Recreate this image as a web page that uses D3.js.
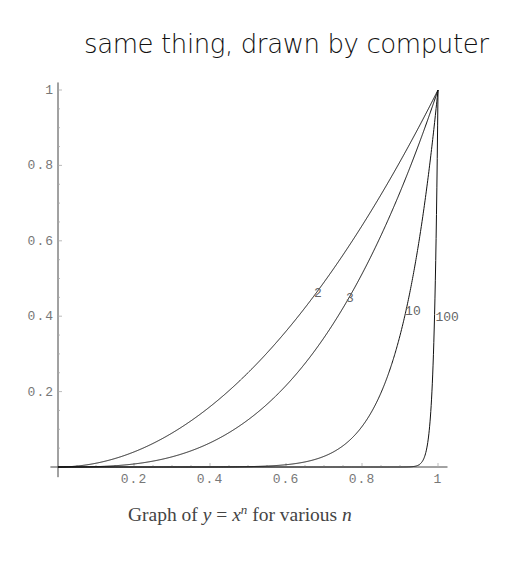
<!DOCTYPE html>
<html>
<head>
<meta charset="utf-8">
<script src="https://cdn.jsdelivr.net/npm/d3@7"></script>
<style>
  body { margin: 0; background: #fff; }
  svg { display: block; }
</style>
</head>
<body>
<script>
// exponents of y = x^n
var exponents = [2, 3, 10, 100];
var curveLabels = ["2", "3", "10", "100"];
// where the labels sit (data units)
var labelX = [0.684, 0.768, 0.934, 1.024];
var labelY = [0.464, 0.451, 0.416, 0.400];

var xTicks = [0.2, 0.4, 0.6, 0.8, 1];
var yTicks = [0.2, 0.4, 0.6, 0.8, 1];
var xTickText = ["0.2", "0.4", "0.6", "0.8", "1"];
var yTickText = ["0.2", "0.4", "0.6", "0.8", "1"];

var width = 512, height = 561;

var svg = d3.select("body").append("svg")
    .attr("width", width).attr("height", height);

var x = d3.scaleLinear().domain([0, 1]).range([58, 438]);
var y = d3.scaleLinear().domain([0, 1]).range([467, 90]);

// handwritten note at top
svg.append("text")
    .attr("x", 84).attr("y", 53)
    .attr("textLength", 405)
    .attr("lengthAdjust", "spacing")
    .style("font-family", "'DejaVu Sans', sans-serif")
    .style("font-size", "26px")
    .style("font-weight", 300)
    .attr("fill", "#111")
    .text("same thing, drawn by computer");

// axes lines (a little past the range, mathematica style)
var axisG = svg.append("g").attr("stroke", "#444").attr("stroke-width", 1);
axisG.append("line")
    .attr("x1", x(-0.02)).attr("x2", x(1.025))
    .attr("y1", y(0)).attr("y2", y(0));
axisG.append("line")
    .attr("x1", x(0)).attr("x2", x(0))
    .attr("y1", y(-0.027)).attr("y2", y(1.02));

// minor + major ticks
var minor = d3.range(0.05, 1.001, 0.05);
svg.append("g").selectAll("line").data(minor)
  .enter().append("line")
    .attr("x1", d => x(d)).attr("x2", d => x(d))
    .attr("y1", y(0)).attr("y2", d => y(0) - (xTicks.some(t => Math.abs(t - d) < 1e-6) ? 4 : 2))
    .attr("stroke", "#aaa").attr("stroke-width", 0.8);
svg.append("g").selectAll("line").data(minor)
  .enter().append("line")
    .attr("y1", d => y(d)).attr("y2", d => y(d))
    .attr("x1", x(0)).attr("x2", d => x(0) + (yTicks.some(t => Math.abs(t - d) < 1e-6) ? 4 : 2))
    .attr("stroke", "#aaa").attr("stroke-width", 0.8);

// tick labels
svg.append("g").selectAll("text").data(xTicks)
  .enter().append("text")
    .attr("x", d => x(d)).attr("y", y(0) + 16)
    .attr("text-anchor", "middle")
    .style("font-family", "'Liberation Mono', monospace")
    .style("font-size", "13px")
    .style("letter-spacing", "1px")
    .attr("fill", "#777")
    .text((d, i) => xTickText[i]);
svg.append("g").selectAll("text").data(yTicks)
  .enter().append("text")
    .attr("x", x(0) - 4).attr("y", d => y(d) + 4)
    .attr("text-anchor", "end")
    .style("font-family", "'Liberation Mono', monospace")
    .style("font-size", "13px")
    .style("letter-spacing", "1px")
    .attr("fill", "#777")
    .text((d, i) => yTickText[i]);

// curves
var xs = d3.range(0, 1.0005, 0.001);
var line = d3.line().x(d => x(d[0])).y(d => y(d[1]));

svg.append("g").selectAll("path").data(exponents)
  .enter().append("path")
    .attr("d", n => line(xs.map(v => [v, Math.pow(v, n)])))
    .attr("fill", "none")
    .attr("stroke", "#111")
    .attr("stroke-width", 1);

// curve labels
svg.append("g").selectAll("text").data(exponents)
  .enter().append("text")
    .attr("x", (d, i) => x(labelX[i]))
    .attr("y", (d, i) => y(labelY[i]) + 5)
    .attr("text-anchor", "middle")
    .style("font-family", "'Liberation Mono', monospace")
    .style("font-size", "13px")
    .attr("fill", "#666")
    .text((d, i) => curveLabels[i]);

// caption
var cap = svg.append("text")
    .attr("x", 128).attr("y", 521)
    .style("font-family", "'Liberation Serif', serif")
    .style("font-size", "19.5px")
    .attr("fill", "#444");
cap.append("tspan").text("Graph of ");
cap.append("tspan").style("font-style", "italic").text("y");
cap.append("tspan").text(" = ");
cap.append("tspan").style("font-style", "italic").text("x");
cap.append("tspan").style("font-style", "italic").style("font-size", "13px").attr("dy", -7).text("n");
cap.append("tspan").attr("dy", 7).text(" for various ");
cap.append("tspan").style("font-style", "italic").text("n");
</script>
</body>
</html>
